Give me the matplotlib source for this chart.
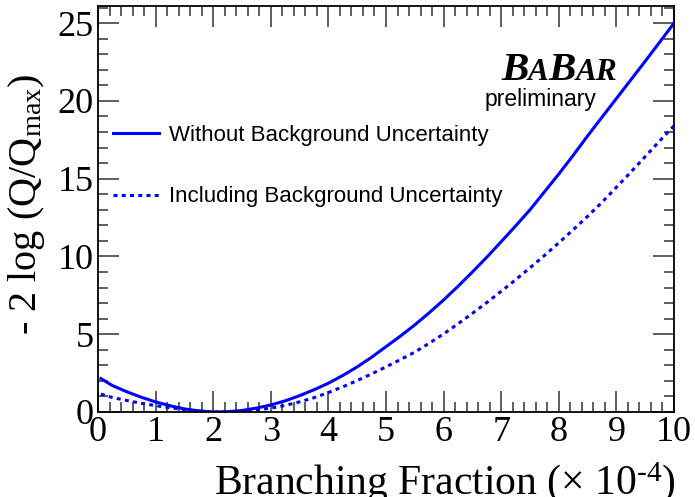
import matplotlib
matplotlib.use("Agg")
import matplotlib.pyplot as plt
from matplotlib.ticker import MultipleLocator

serif = "Liberation Serif"
sans = "Liberation Sans"
plt.rcParams["mathtext.fontset"] = "custom"
plt.rcParams["mathtext.rm"] = serif
plt.rcParams["mathtext.it"] = serif + ":italic"

# values
bf = [0.05, 0.25, 0.5, 0.75, 1.0, 1.25, 1.5, 1.75, 2.0, 2.25, 2.5, 2.75,
      3.0, 3.25, 3.5, 3.75, 4.0, 4.25, 4.5, 4.75, 5.0, 5.25, 5.5, 5.75,
      6.0, 6.25, 6.5, 6.75, 7.0, 7.25, 7.5, 7.75, 8.0, 8.25, 8.5, 8.75,
      9.0, 9.25, 9.5, 9.75, 10.0]
nll_no_bkg = [2.15, 1.7, 1.3, 0.95, 0.65, 0.4, 0.2, 0.07, 0.0, 0.02, 0.1, 0.25,
              0.45, 0.72, 1.05, 1.43, 1.85, 2.35, 2.9, 3.52, 4.2, 4.88, 5.6, 6.38,
              7.2, 8.08, 9.0, 9.95, 10.95, 11.96, 13.0, 14.15, 15.3, 16.5, 17.75, 18.95,
              20.15, 21.35, 22.55, 23.77, 25.0]
nll_with_bkg = [1.15, 0.93, 0.74, 0.56, 0.41, 0.27, 0.15, 0.06, 0.0, 0.01, 0.05, 0.13,
                0.25, 0.42, 0.65, 0.92, 1.25, 1.62, 2.02, 2.45, 2.9, 3.37, 3.85, 4.42,
                5.02, 5.67, 6.34, 7.04, 7.76, 8.5, 9.27, 10.06, 10.88, 11.72, 12.58, 13.48,
                14.45, 15.42, 16.42, 17.42, 18.4]
labels = ["Without Background Uncertainty", "Including Background Uncertainty"]

W, H = 695, 497
fig = plt.figure(figsize=(W / 100, H / 100), dpi=100)
ax = fig.add_axes([98 / W, 1 - 412 / H, 576 / W, 406 / H])

ax.plot(bf, nll_no_bkg, color="#0000ff", lw=2.2, label=labels[0])
ax.plot(bf, nll_with_bkg, color="#0000ff", lw=2.2, linestyle=(0, (1.3, 1.4)),
        dash_capstyle="butt", label=labels[1])

ax.set_xlim(0, 10)
ax.set_ylim(0, 26.1)

# ROOT-like frame and ticks
for s in ax.spines.values():
    s.set_linewidth(1.3)
ax.xaxis.set_major_locator(MultipleLocator(1))
ax.xaxis.set_minor_locator(MultipleLocator(0.2))
ax.yaxis.set_major_locator(MultipleLocator(5))
ax.yaxis.set_minor_locator(MultipleLocator(1))
ax.tick_params(which="both", direction="in", top=True, right=True,
               color="#333333", width=1.1)
ax.tick_params(which="major", length=15, labelsize=26, pad=3)
ax.tick_params(which="minor", length=7.5)
for lab in ax.get_xticklabels() + ax.get_yticklabels():
    lab.set_family(serif)

fig.text(27 / W, 1 - 204 / H, r"- 2 log (Q/Q$_{\rm max}$)", family=serif,
         fontsize=29, rotation=90, ha="center", va="center")
fig.text(676 / W, 1 - 494 / H, "Branching Fraction (\u00d7 10$^{\\text{-4}}$)",
         family=serif, fontsize=30, ha="right", va="baseline")

leg = ax.legend(loc="upper left", bbox_to_anchor=(113 / W, 1 - 125 / H),
                bbox_transform=fig.transFigure, frameon=False,
                prop={"family": sans, "size": 16}, handlelength=2.05,
                labelspacing=1.82, handletextpad=0.45, borderpad=0,
                borderaxespad=0)

# BaBar logo: B A B A R with small caps
fig.canvas.draw()
renderer = fig.canvas.get_renderer()
x0 = 501
ylogo = H - 80
for ch, size in [("B", 29.5), ("A", 22.5), ("B", 29.5), ("AR", 22.5)]:
    t = fig.text(x0 / W, ylogo / H, ch, family=serif, fontsize=size,
                 fontweight="bold", fontstyle="italic", ha="left", va="baseline")
    bb = t.get_window_extent(renderer)
    x0 = bb.x1 - 0.5
fig.text(541 / W, 1 - 106 / H, "preliminary", family=sans, fontsize=16.5,
         ha="center", va="baseline")

fig.savefig("out.png", dpi=100)
